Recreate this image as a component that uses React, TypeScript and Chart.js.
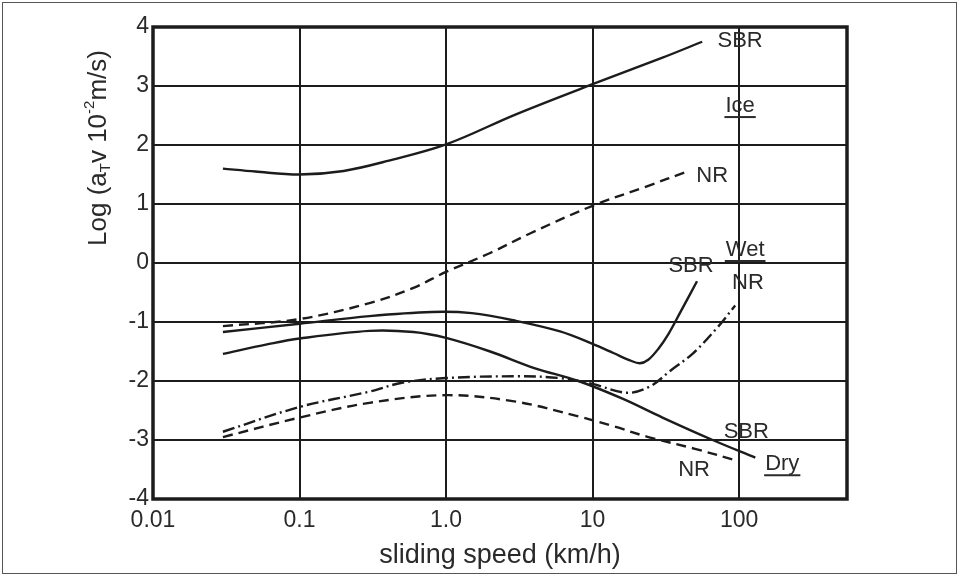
import React, { useEffect, useRef } from "react";
import { Chart, registerables } from "chart.js";

Chart.register(...registerables);

// ---- axis ticks ----
const xTicks = [0.01, 0.1, 1, 10, 100];
const xTickLabels = ["0.01", "0.1", "1.0", "10", "100"];
const xMin = 0.01;
const xMax = 545;
const yMin = -4;
const yMax = 4;

// ---- Ice ----
const iceSbrX = [0.03, 0.05, 0.1, 0.2, 0.4, 1, 3, 10, 30, 56];
const iceSbrY = [1.6, 1.55, 1.5, 1.56, 1.73, 2.01, 2.52, 3.03, 3.48, 3.75];
const iceNrX = [0.03, 0.1, 0.3, 0.6, 1, 2, 3.74, 10, 23.5, 44];
const iceNrY = [-1.07, -0.95, -0.68, -0.42, -0.15, 0.17, 0.5, 0.97, 1.3, 1.55];

// ---- Wet ----
const wetSbrX = [0.03, 0.1, 0.3, 0.8, 1.5, 3, 6, 10, 14, 18, 21, 24, 28, 33, 40, 51.6];
const wetSbrY = [-1.17, -1.03, -0.9, -0.83, -0.85, -0.98, -1.16, -1.37, -1.53, -1.65, -1.7, -1.64, -1.46, -1.2, -0.82, -0.31];
const wetNrX = [0.03, 0.1, 0.3, 0.5, 1, 3, 6, 10, 17.2, 24.7, 33.8, 48.5, 70.7, 94];
const wetNrY = [-2.86, -2.44, -2.18, -2.03, -1.95, -1.92, -1.95, -2.05, -2.2, -2.09, -1.83, -1.53, -1.1, -0.72];

// ---- Dry ----
const drySbrX = [0.03, 0.06, 0.1, 0.3, 0.6, 1, 2, 4, 8, 16, 30, 66, 129];
const drySbrY = [-1.54, -1.38, -1.28, -1.15, -1.17, -1.27, -1.5, -1.78, -2.0, -2.3, -2.62, -3.0, -3.3];
const dryNrX = [0.03, 0.1, 0.3, 1, 3, 8, 14, 24, 50, 100];
const dryNrY = [-2.95, -2.62, -2.37, -2.24, -2.35, -2.6, -2.77, -2.95, -3.15, -3.36];

// ---- curve annotations (data coordinates) ----
const labelTexts = ["SBR", "Ice", "NR", "Wet", "SBR", "NR", "SBR", "Dry", "NR"];
const labelX = [101.6, 101.6, 65.5, 110, 47, 115, 112, 197, 49.3];
const labelY = [3.76, 2.66, 1.47, 0.22, -0.05, -0.34, -2.86, -3.41, -3.51];
const labelUnderline = [false, true, false, true, false, false, false, true, false];

const FONT = "'Liberation Sans', Arial, sans-serif";
const INK = "#1c1c1c";
const TEXT = "#2a2a2a";

function pts(xs: number[], ys: number[]) {
  return xs.map((x, i) => ({ x, y: ys[i] }));
}

const decorPlugin = {
  id: "decor",
  afterDatasetsDraw(chart: any) {
    const { ctx, chartArea, scales } = chart;
    ctx.save();
    // plot frame
    ctx.strokeStyle = INK;
    ctx.lineWidth = 3.5;
    ctx.strokeRect(
      chartArea.left,
      chartArea.top,
      chartArea.right - chartArea.left,
      chartArea.bottom - chartArea.top
    );
    // curve labels
    ctx.fillStyle = TEXT;
    ctx.strokeStyle = TEXT;
    ctx.font = `22px ${FONT}`;
    ctx.textAlign = "center";
    ctx.textBaseline = "middle";
    labelTexts.forEach((t, i) => {
      const px = scales.x.getPixelForValue(labelX[i]);
      const py = scales.y.getPixelForValue(labelY[i]);
      ctx.fillText(t, px, py);
      if (labelUnderline[i]) {
        const w = ctx.measureText(t).width;
        ctx.lineWidth = 2;
        ctx.beginPath();
        ctx.moveTo(px - w / 2 - 1, py + 11);
        ctx.lineTo(px + w / 2 + 1, py + 11);
        ctx.stroke();
      }
    });
    // y-axis title with sub/superscripts
    const pieces = [
      { t: "Log (a", s: 0 },
      { t: "T", s: 1 },
      { t: "v 10", s: 0 },
      { t: "-2", s: -1 },
      { t: "m/s)", s: 0 },
    ];
    const big = `26px ${FONT}`;
    const small = `15px ${FONT}`;
    let total = 0;
    pieces.forEach((p) => {
      ctx.font = p.s === 0 ? big : small;
      total += ctx.measureText(p.t).width;
    });
    ctx.translate(chartArea.left - 54, chartArea.top + 121);
    ctx.rotate(-Math.PI / 2);
    ctx.textAlign = "left";
    ctx.textBaseline = "middle";
    let cx = -total / 2;
    pieces.forEach((p) => {
      ctx.font = p.s === 0 ? big : small;
      const dy = p.s === 1 ? 7 : p.s === -1 ? -9 : 0;
      ctx.fillText(p.t, cx, dy);
      cx += ctx.measureText(p.t).width;
    });
    ctx.restore();
  },
};

export default function App() {
  const ref = useRef<HTMLCanvasElement | null>(null);

  useEffect(() => {
    if (!ref.current) return;
    const solid = { borderColor: INK, borderWidth: 2.4, pointRadius: 0, fill: false, tension: 0.35 };
    const chart = new Chart(ref.current, {
      type: "line",
      data: {
        datasets: [
          { label: "Ice SBR", data: pts(iceSbrX, iceSbrY), ...solid },
          { label: "Ice NR", data: pts(iceNrX, iceNrY), ...solid, borderDash: [10, 6] },
          { label: "Wet SBR", data: pts(wetSbrX, wetSbrY), ...solid },
          { label: "Wet NR", data: pts(wetNrX, wetNrY), ...solid, borderDash: [12, 4, 2, 4] },
          { label: "Dry SBR", data: pts(drySbrX, drySbrY), ...solid },
          { label: "Dry NR", data: pts(dryNrX, dryNrY), ...solid, borderDash: [10, 6] },
        ],
      },
      options: {
        animation: false,
        responsive: false,
        devicePixelRatio: 1,
        parsing: false as any,
        layout: { padding: { left: 0, top: 27, right: 114, bottom: 0 } },
        plugins: { legend: { display: false }, tooltip: { enabled: false } },
        scales: {
          x: {
            type: "logarithmic",
            min: xMin,
            max: xMax,
            afterBuildTicks: (scale: any) => {
              scale.ticks = xTicks.map((v) => ({ value: v }));
            },
            afterFit: (scale: any) => {
              scale.height = 78;
            },
            grid: { color: INK, lineWidth: 2, drawTicks: false },
            border: { display: false },
            ticks: {
              autoSkip: false,
              maxRotation: 0,
              padding: 8,
              color: TEXT,
              font: { family: FONT, size: 23 },
              callback: (v: any) => {
                const i = xTicks.findIndex((t) => Math.abs(t - Number(v)) < 1e-9);
                return i >= 0 ? xTickLabels[i] : "";
              },
            },
            title: {
              display: true,
              text: "sliding speed (km/h)",
              color: TEXT,
              font: { family: FONT, size: 27 },
              padding: { top: 0, bottom: 5 },
            },
          },
          y: {
            type: "linear",
            min: yMin,
            max: yMax,
            afterFit: (scale: any) => {
              scale.width = 153;
            },
            grid: { color: INK, lineWidth: 2, drawTicks: false },
            border: { display: false },
            ticks: {
              stepSize: 1,
              padding: 4,
              color: TEXT,
              font: { family: FONT, size: 23 },
            },
          },
        },
      },
      plugins: [decorPlugin],
    });
    return () => chart.destroy();
  }, []);

  return (
    <div style={{ position: "absolute", left: 0, top: 0, width: 961, height: 577, background: "#fff" }}>
      <canvas ref={ref} width={961} height={577} style={{ position: "absolute", left: 0, top: 0 }} />
      <div
        style={{
          position: "absolute",
          left: 2,
          top: 2,
          width: 955,
          height: 572,
          border: "1.5px solid #555",
          boxSizing: "border-box",
          pointerEvents: "none",
        }}
      />
    </div>
  );
}
